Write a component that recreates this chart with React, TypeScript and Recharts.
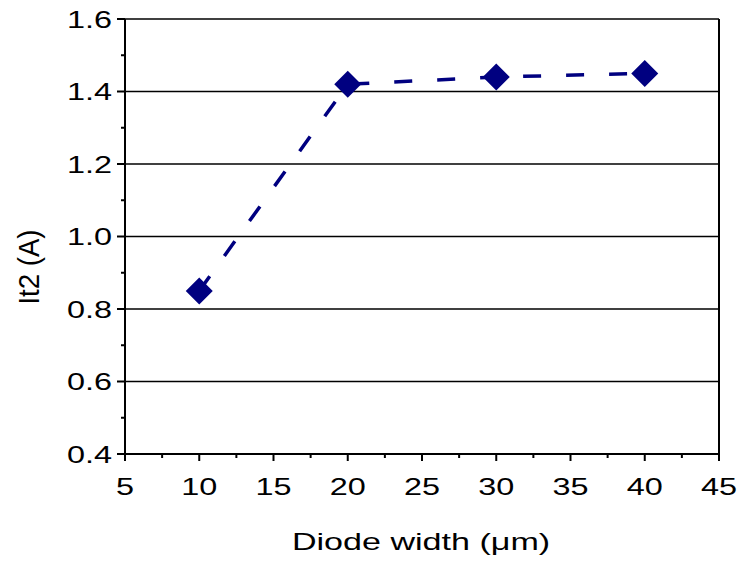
import React from 'react'
import { LineChart, Line, XAxis, YAxis, CartesianGrid, ReferenceLine } from 'recharts'

const widths = [10, 20, 30, 40]
const it2 = [0.85, 1.42, 1.44, 1.45]

const xMajor = [5, 10, 15, 20, 25, 30, 35, 40, 45]
const xMinor = [7.5, 12.5, 17.5, 22.5, 27.5, 32.5, 37.5, 42.5]
const yMajor = [0.4, 0.6, 0.8, 1.0, 1.2, 1.4, 1.6]
const yMinor = [0.5, 0.7, 0.9, 1.1, 1.3, 1.5]

const data = widths.map((w, i) => ({ width: w, it2: it2[i] }))

const FONT = '"Liberation Sans", Arial, sans-serif'
const NAVY = '#000080'

const XTick = (props: any) => {
  const { x, y, payload } = props
  const major = xMajor.includes(payload.value)
  return (
    <g>
      <line x1={x} y1={y} x2={x} y2={y + (major ? 7 : 4)} stroke="#000" strokeWidth={2} />
      {major && (
        <text
          transform={`translate(${x},${y + 41}) scale(1.35,1)`}
          textAnchor="middle"
          fontSize={24}
          fontFamily={FONT}
          fill="#000"
        >
          {payload.value}
        </text>
      )}
    </g>
  )
}

const YTick = (props: any) => {
  const { x, y, payload } = props
  const major = yMajor.some((v) => Math.abs(v - payload.value) < 1e-6)
  return (
    <g>
      <line x1={x} y1={y} x2={x - (major ? 8 : 4)} y2={y} stroke="#000" strokeWidth={2} />
      {major && (
        <text
          transform={`translate(${x - 13},${y + 8.5}) scale(1.35,1)`}
          textAnchor="end"
          fontSize={24}
          fontFamily={FONT}
          fill="#000"
        >
          {payload.value.toFixed(1)}
        </text>
      )}
    </g>
  )
}

const Diamond = (props: any) => {
  const { cx, cy } = props
  if (cx == null || cy == null) return null
  const r = 13.5
  return (
    <polygon
      points={`${cx},${cy - r} ${cx + r},${cy} ${cx},${cy + r} ${cx - r},${cy}`}
      fill={NAVY}
    />
  )
}

export default function App() {
  return (
    <div style={{ width: 739, height: 563, position: 'relative' }}>
      <style>{'body{margin:0}'}</style>
      <LineChart
        width={739}
        height={563}
        data={data}
        margin={{ top: 19, right: 20, left: 0, bottom: 0 }}
      >
        <CartesianGrid
          vertical={false}
          horizontalValues={yMajor.slice(1)}
          stroke="#000"
          strokeWidth={1.5}
          strokeDasharray=""
        />
        <XAxis
          dataKey="width"
          type="number"
          domain={[5, 45]}
          ticks={[...xMajor, ...xMinor].sort((a, b) => a - b)}
          interval={0}
          height={109}
          tickSize={0}
          tickMargin={0}
          tickLine={false}
          tick={<XTick />}
          axisLine={{ stroke: '#000', strokeWidth: 2 }}
        />
        <YAxis
          type="number"
          domain={[0.4, 1.6]}
          ticks={[...yMajor, ...yMinor].sort((a, b) => a - b)}
          interval={0}
          width={125}
          tickSize={0}
          tickMargin={0}
          tickLine={false}
          tick={<YTick />}
          axisLine={{ stroke: '#000', strokeWidth: 2 }}
        />
        <ReferenceLine x={45} stroke="#000" strokeWidth={2} />
        <Line
          dataKey="it2"
          stroke={NAVY}
          strokeWidth={3.5}
          strokeDasharray="18 25"
          dot={<Diamond />}
          activeDot={false}
          isAnimationActive={false}
        />
      </LineChart>
      <svg
        width={739}
        height={563}
        style={{ position: 'absolute', left: 0, top: 0, pointerEvents: 'none' }}
      >
        <text
          transform="translate(421,550) scale(1.42,1)"
          textAnchor="middle"
          fontSize={24}
          fontFamily={FONT}
          fill="#000"
        >
          Diode width (μm)
        </text>
        <text
          transform="translate(39,267) rotate(-90) scale(1.15,1.25)"
          textAnchor="middle"
          fontSize={24}
          fontFamily={FONT}
          fill="#000"
        >
          It2 (A)
        </text>
      </svg>
    </div>
  )
}
